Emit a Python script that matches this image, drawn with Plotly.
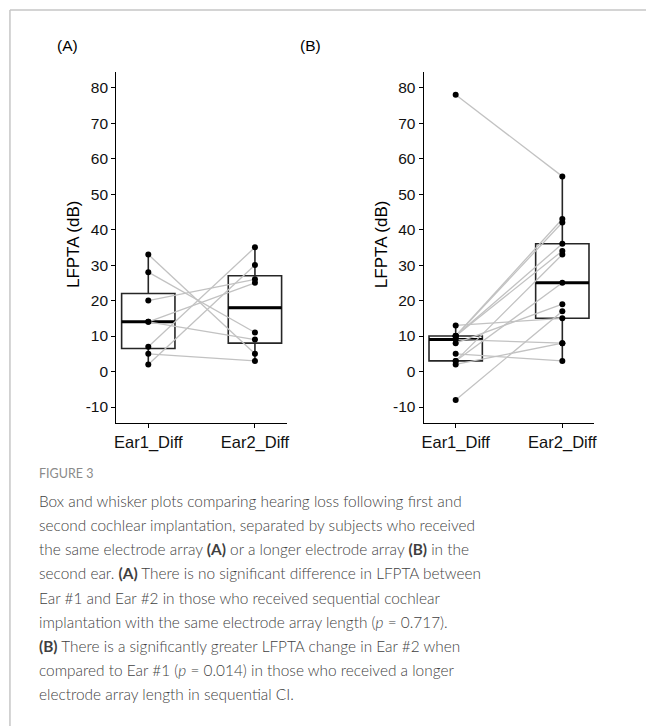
import numpy as np
import plotly.graph_objects as go

W, H = 648, 726

# ---- data ----
categories = ["Ear1_Diff", "Ear2_Diff"]
a_ear1 = [33, 28, 20, 14, 14, 7, 5, 2]
a_ear2 = [5, 11, 26, 25, 9, 35, 3, 30]
b_ear1 = [78, 13, 10, 10, 10, 10, 9, 8, 5, 3, 3, 2, -8]
b_ear2 = [55, 15, 43, 42, 36, 34, 8, 19, 3, 33, 25, 8, 17]
y_ticks = [-10, 0, 10, 20, 30, 40, 50, 60, 70, 80]
panel_labels = ["(A)", "(B)"]
y_title = "LFPTA (dB)"

caption_head = "FIGURE 3"
caption_lines = [
    "Box and whisker plots comparing hearing loss following first and",
    "second cochlear implantation, separated by subjects who received",
    "the same electrode array <b>(A)</b> or a longer electrode array <b>(B)</b> in the",
    "second ear. <b>(A)</b> There is no significant difference in LFPTA between",
    "Ear #1 and Ear #2 in those who received sequential cochlear",
    "implantation with the same electrode array length (<i>p</i> = 0.717).",
    "<b>(B)</b> There is a significantly greater LFPTA change in Ear #2 when",
    "compared to Ear #1 (<i>p</i> = 0.014) in those who received a longer",
    "electrode array length in sequential CI.",
]


def px(x):
    return x / W


def py(y):
    return 1 - y / H


def box_stats(vals):
    v = np.sort(np.asarray(vals, dtype=float))
    q1, med, q3 = np.percentile(v, [25, 50, 75])
    iqr = q3 - q1
    lo = v[v >= q1 - 1.5 * iqr].min()
    hi = v[v <= q3 + 1.5 * iqr].max()
    return q1, med, q3, lo, hi


CHART_FONT = "Arial"
CAP_FONT = "Lato"

fig = go.Figure()

panels = [
    (a_ear1, a_ear2, "x", "y"),
    (b_ear1, b_ear2, "x2", "y2"),
]
BOX_W = 0.5

for ear1, ear2, xa, ya in panels:
    groups = [ear1, ear2]
    for pos, vals in enumerate(groups):
        q1, med, q3, lo, hi = box_stats(vals)
        fig.add_trace(go.Box(
            x=[pos], q1=[q1], median=[med], q3=[q3],
            lowerfence=[lo], upperfence=[hi], width=BOX_W,
            boxpoints=False,
            fillcolor="rgba(0,0,0,0)",
            line=dict(color="#262626", width=1.6),
            whiskerwidth=0, showlegend=False, hoverinfo="skip",
            xaxis=xa, yaxis=ya,
        ))
        fig.add_trace(go.Scatter(
            x=[pos - BOX_W / 2, pos + BOX_W / 2], y=[med, med],
            mode="lines", line=dict(color="#000000", width=3),
            showlegend=False, hoverinfo="skip", xaxis=xa, yaxis=ya,
        ))
    lx, ly = [], []
    for v1, v2 in zip(ear1, ear2):
        lx += [0, 1, None]
        ly += [v1, v2, None]
    fig.add_trace(go.Scatter(
        x=lx, y=ly, mode="lines",
        line=dict(color="#c2c2c2", width=1.3),
        showlegend=False, hoverinfo="skip", xaxis=xa, yaxis=ya,
    ))
    fig.add_trace(go.Scatter(
        x=[0] * len(ear1) + [1] * len(ear2), y=list(ear1) + list(ear2),
        mode="markers", marker=dict(color="#000000", size=6),
        showlegend=False, hoverinfo="skip", xaxis=xa, yaxis=ya,
    ))

ydom = [py(423), py(71.7)]
axis_common = dict(
    showgrid=False, zeroline=False, showline=True,
    linecolor="#000000", linewidth=1.3,
    ticks="outside", ticklen=4, tickwidth=1.1, tickcolor="#000000",
)
xcommon = dict(axis_common, range=[-0.3, 1.3], tickvals=[0, 1],
               ticktext=categories,
               tickfont=dict(family=CHART_FONT, size=16.5, color="#111111"))
ycommon = dict(axis_common, range=[-14.5, 84.5], tickvals=y_ticks,
               ticktext=[str(t) for t in y_ticks],
               tickfont=dict(family=CHART_FONT, size=15.5, color="#111111"))

fig.update_layout(
    width=W, height=H,
    margin=dict(l=0, r=0, t=0, b=0),
    paper_bgcolor="white", plot_bgcolor="white",
    showlegend=False,
    font=dict(family=CHART_FONT),
    xaxis=dict(xcommon, domain=[px(115), px(286.7)], anchor="y"),
    yaxis=dict(ycommon, domain=ydom, anchor="x"),
    xaxis2=dict(xcommon, domain=[px(424.3), px(596)], anchor="y2"),
    yaxis2=dict(ycommon, domain=ydom, anchor="x2"),
)

annotations = []
for lab, xc in zip(panel_labels, [66, 310.5]):
    annotations.append(dict(
        text=lab, x=px(xc), y=py(45.5), xref="paper", yref="paper",
        xanchor="center", yanchor="middle", showarrow=False,
        font=dict(family=CHART_FONT, size=15.5, color="#000000"),
    ))
for xc in [71.5, 381.5]:
    annotations.append(dict(
        text=y_title, x=px(xc), y=py(244), xref="paper", yref="paper",
        xanchor="center", yanchor="middle", showarrow=False, textangle=-90,
        font=dict(family=CHART_FONT, size=17, color="#000000"),
    ))
annotations.append(dict(
    text=caption_head, x=px(35), y=py(473), xref="paper", yref="paper",
    xanchor="left", yanchor="middle", showarrow=False,
    font=dict(family=CAP_FONT, size=12.5, color="#8a8a8a"),
))
for i, line in enumerate(caption_lines):
    annotations.append(dict(
        text=line, x=px(35), y=py(501 + i * 24.15), xref="paper", yref="paper",
        xanchor="left", yanchor="middle", showarrow=False,
        font=dict(family=CAP_FONT, size=15.4, color="#3f3f3f", weight=300),
    ))
fig.update_layout(annotations=annotations)

fig.update_layout(shapes=[
    dict(type="line", xref="paper", yref="paper", x0=px(8), x1=1,
         y0=py(10), y1=py(10), line=dict(color="#c6c6c6", width=1.5)),
    dict(type="line", xref="paper", yref="paper", x0=px(8), x1=px(8),
         y0=py(10), y1=0, line=dict(color="#c6c6c6", width=1.5)),
])

fig.write_html("out.html")
